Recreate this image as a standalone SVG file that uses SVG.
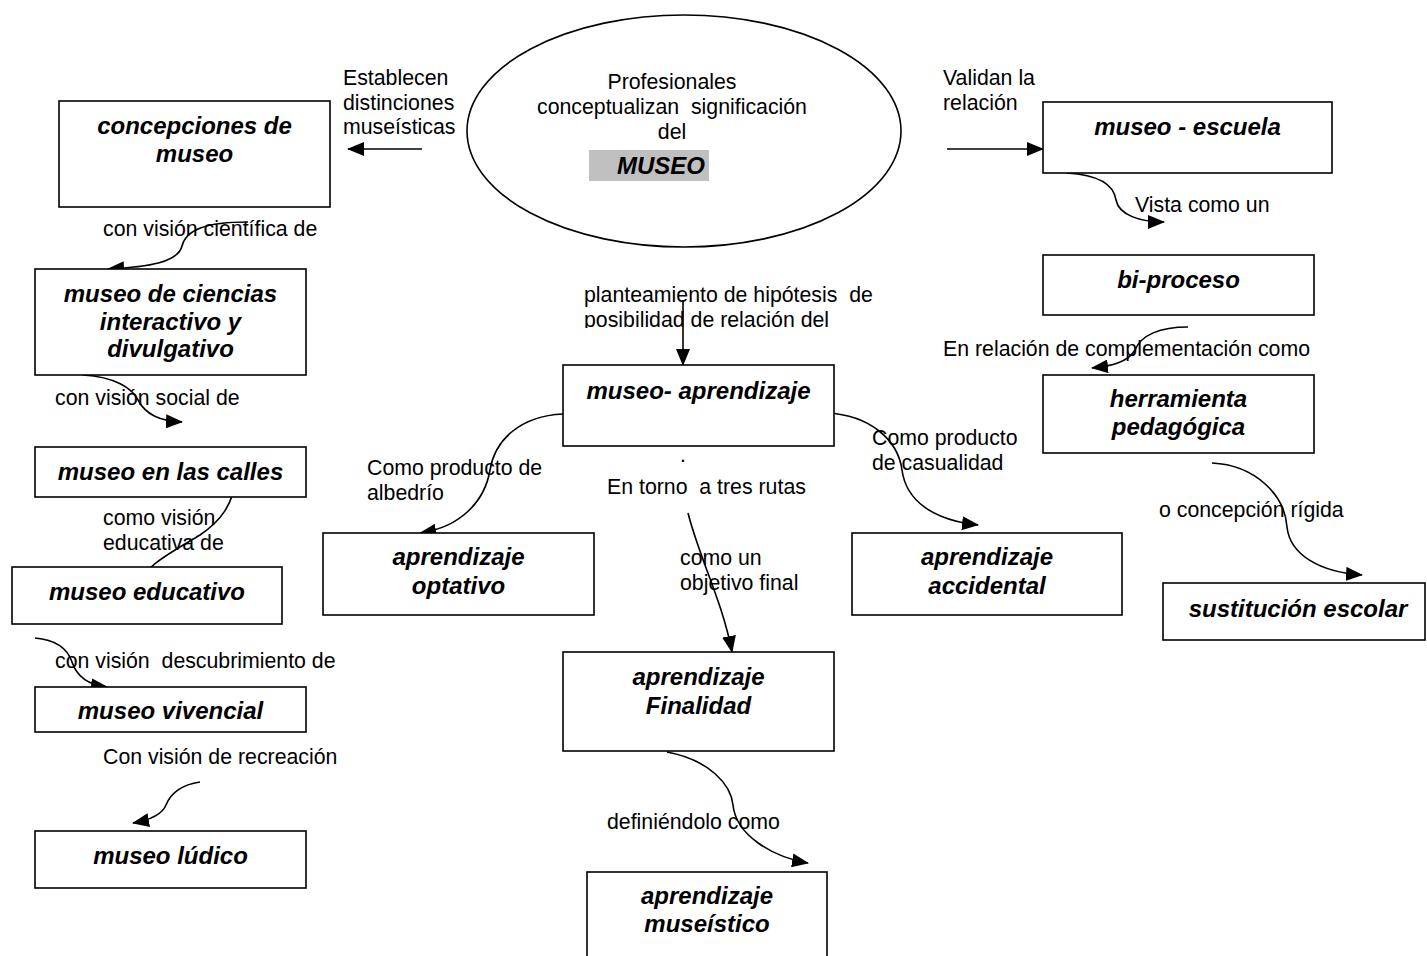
<svg xmlns="http://www.w3.org/2000/svg" width="1427" height="956" viewBox="0 0 1427 956">
<style>
.box{fill:#fff;stroke:#000;stroke-width:1.6}
.nl{font-family:"Liberation Sans",Arial,sans-serif;font-size:24px;font-weight:bold;font-style:italic;fill:#000;text-anchor:middle}
.lb{font-family:"Liberation Sans",Arial,sans-serif;font-size:21.3px;fill:#000;white-space:pre}
.ct{font-family:"Liberation Sans",Arial,sans-serif;font-size:21.3px;fill:#000;text-anchor:middle;white-space:pre}
.ed{fill:none;stroke:#000;stroke-width:1.6}
</style>
<defs>
<marker id="ah" markerUnits="userSpaceOnUse" markerWidth="17" markerHeight="14" viewBox="0 0 17 14" refX="16" refY="7" orient="auto">
<path d="M0,0 L17,7 L0,14 z" fill="#000"/>
</marker>
<clipPath id="clipHyp"><rect x="570" y="280" width="320" height="48"/></clipPath>
</defs>
<rect width="1427" height="956" fill="#fff"/>

<g id="connectors">
<path class="ed" d="M422,149 L348,149" marker-end="url(#ah)"/>
<path class="ed" d="M248,222 C205,222 186,230 182,246 C178,262 150,267 108,269" marker-end="url(#ah)"/>
<path class="ed" d="M83,375 C115,377 132,388 138,400 C146,415 160,421 182,422" marker-end="url(#ah)"/>
<path class="ed" d="M237,477 C232,505 222,520 200,535 C172,552 145,565 133,590" marker-end="url(#ah)"/>
<path class="ed" d="M35,638 C58,640 68,650 72,662 C77,677 88,685 107,687" marker-end="url(#ah)"/>
<path class="ed" d="M200,782 C180,785 170,795 166,805 C162,815 150,820 133,823" marker-end="url(#ah)"/>
<path class="ed" d="M683,300 L683,365" marker-end="url(#ah)"/>
<path class="ed" d="M563,414 C520,416 495,440 490,470 C485,500 462,527 420,533" marker-end="url(#ah)"/>
<path class="ed" d="M827,413 C870,415 898,440 902,470 C906,500 932,520 978,525" marker-end="url(#ah)"/>
<path class="ed" d="M688,513 C700,560 722,600 732,652" marker-end="url(#ah)"/>
<path class="ed" d="M667,752 C710,760 731,785 733,805 C736,835 772,857 808,863" marker-end="url(#ah)"/>
<path class="ed" d="M947,149 L1043,149" marker-end="url(#ah)"/>
<path class="ed" d="M1067,173 C1100,175 1114,186 1116,200 C1119,215 1140,222 1164,222" marker-end="url(#ah)"/>
<path class="ed" d="M1188,327 C1160,327 1141,335 1135,350 C1128,362 1112,366 1092,368" marker-end="url(#ah)"/>
<path class="ed" d="M1212,463 C1255,465 1285,495 1287,527 C1290,555 1320,572 1362,575" marker-end="url(#ah)"/>
</g>

<g id="labels">
<text class="lb" x="343" y="85">Establecen</text>
<text class="lb" x="343" y="110">distinciones</text>
<text class="lb" x="343" y="134">museísticas</text>
<text class="lb" x="943" y="85">Validan la</text>
<text class="lb" x="943" y="110">relación</text>
<text class="lb" x="103" y="236">con visión científica de</text>
<text class="lb" x="55" y="405">con visión social de</text>
<text class="lb" x="103" y="525">como visión</text>
<text class="lb" x="103" y="550">educativa de</text>
<text class="lb" x="55" y="668">con visión  descubrimiento de</text>
<text class="lb" x="103" y="764">Con visión de recreación</text>
<g clip-path="url(#clipHyp)">
<text class="lb" x="584" y="302">planteamiento de hipótesis  de</text>
<text class="lb" x="584" y="327">posibilidad de relación del</text>
</g>
<text class="lb" x="680" y="462">.</text>
<text class="lb" x="607" y="494">En torno  a tres rutas</text>
<text class="lb" x="367" y="475">Como producto de</text>
<text class="lb" x="367" y="500">albedrío</text>
<text class="lb" x="872" y="445">Como producto</text>
<text class="lb" x="872" y="470">de casualidad</text>
<text class="lb" x="680" y="565">como un</text>
<text class="lb" x="680" y="590">objetivo final</text>
<text class="lb" x="607" y="829">definiéndolo como</text>
<text class="lb" x="1135" y="212">Vista como un</text>
<text class="lb" x="943" y="356">En relación de complementación como</text>
<text class="lb" x="1159" y="517">o concepción rígida</text>
</g>

<g id="n-museo">
<ellipse cx="684" cy="131" rx="217" ry="116" fill="none" stroke="#000" stroke-width="1.6"/>
<text class="ct" x="672" y="89">Profesionales</text>
<text class="ct" x="672" y="114">conceptualizan  significación</text>
<text class="ct" x="672" y="139">del</text>
<rect x="589" y="150" width="120" height="31" fill="#c0c0c0"/>
<text class="nl" x="661" y="174">MUSEO</text>
</g>

<g id="n-concepciones">
<rect class="box" x="59" y="101" width="271" height="106"/>
<text class="nl" x="194.5" y="134">concepciones de</text>
<text class="nl" x="194.5" y="162">museo</text>
</g>
<g id="n-ciencias">
<rect class="box" x="35" y="269" width="271" height="106"/>
<text class="nl" x="170.5" y="302">museo de ciencias</text>
<text class="nl" x="170.5" y="330">interactivo y</text>
<text class="nl" x="170.5" y="357">divulgativo</text>
</g>
<g id="n-calles">
<rect class="box" x="35" y="447" width="271" height="50"/>
<text class="nl" x="170.5" y="480">museo en las calles</text>
</g>
<g id="n-educativo">
<rect class="box" x="12" y="567" width="270" height="57"/>
<text class="nl" x="147" y="600">museo educativo</text>
</g>
<g id="n-vivencial">
<rect class="box" x="35" y="687" width="271" height="45"/>
<text class="nl" x="170.5" y="719">museo vivencial</text>
</g>
<g id="n-ludico">
<rect class="box" x="35" y="831" width="271" height="57"/>
<text class="nl" x="170.5" y="864">museo lúdico</text>
</g>
<g id="n-aprendizaje">
<rect class="box" x="563" y="365" width="271" height="81"/>
<text class="nl" x="698.5" y="399">museo- aprendizaje</text>
</g>
<g id="n-optativo">
<rect class="box" x="323" y="533" width="271" height="82"/>
<text class="nl" x="458.5" y="565">aprendizaje</text>
<text class="nl" x="458.5" y="594">optativo</text>
</g>
<g id="n-accidental">
<rect class="box" x="852" y="533" width="270" height="82"/>
<text class="nl" x="987" y="565">aprendizaje</text>
<text class="nl" x="987" y="594">accidental</text>
</g>
<g id="n-finalidad">
<rect class="box" x="563" y="652" width="271" height="99"/>
<text class="nl" x="698.5" y="685">aprendizaje</text>
<text class="nl" x="698.5" y="714">Finalidad</text>
</g>
<g id="n-museistico">
<rect class="box" x="587" y="872" width="240" height="95"/>
<text class="nl" x="707" y="904">aprendizaje</text>
<text class="nl" x="707" y="932">museístico</text>
</g>
<g id="n-escuela">
<rect class="box" x="1043" y="102" width="289" height="71"/>
<text class="nl" x="1187.5" y="135">museo - escuela</text>
</g>
<g id="n-biproceso">
<rect class="box" x="1043" y="255" width="271" height="60"/>
<text class="nl" x="1178.5" y="288">bi-proceso</text>
</g>
<g id="n-herramienta">
<rect class="box" x="1043" y="375" width="271" height="78"/>
<text class="nl" x="1178.5" y="407">herramienta</text>
<text class="nl" x="1178.5" y="435">pedagógica</text>
</g>
<g id="n-sustitucion">
<rect class="box" x="1163" y="583" width="262" height="57"/>
<text class="nl" x="1298" y="617">sustitución escolar</text>
</g>
</svg>
